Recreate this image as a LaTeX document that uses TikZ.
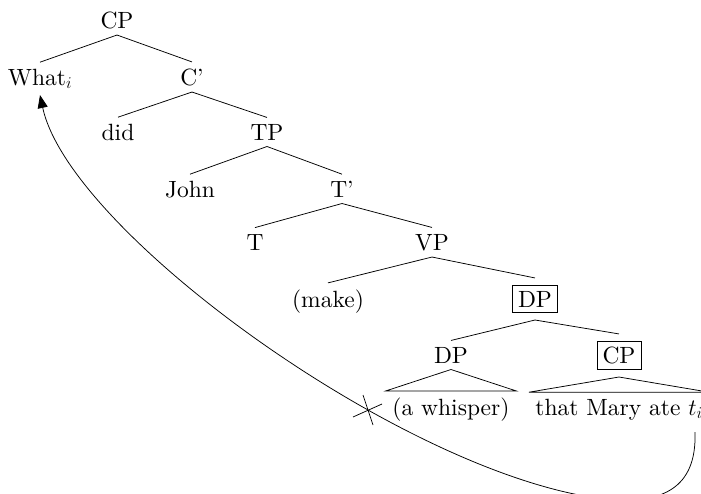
\RequirePackage{fix-cm}
\documentclass[tikz,border=0pt]{standalone}
\usepackage{fontspec}
\setmainfont{lmroman10-regular.otf}[ItalicFont=lmroman10-italic.otf, BoldFont=lmroman10-bold.otf]
\usetikzlibrary{arrows.meta}
\begin{document}
\begin{tikzpicture}[x=1pt,y=-1pt,
  font=\fontsize{23.5}{28}\selectfont,
  every node/.style={inner sep=6.5pt, outer sep=0pt, anchor=base},
  boxed/.style={draw, line width=0.7pt, inner sep=5.5pt, outer sep=7.5pt},
  branch/.style={line width=0.75pt},
  move/.style={line width=0.75pt, -{Triangle[length=13pt,width=10pt]}}]
\useasboundingbox (0,0) rectangle (701,493);

% tree nodes, placed on their baselines
\node (cp) at (117,28) {CP};
\node (what) at (40,85) {What$_i$};
\node (cbar) at (192,85) {C'};
\node (did) at (118,140) {did};
\node (tp) at (267,140) {TP};
\node (john) at (190,197) {John};
\node (tbar) at (342,197) {T'};
\node (t) at (255,250) {T};
\node (vp) at (432,250) {VP};
\node (make) at (328,307) {(make)};
\node[boxed] (dpbox) at (535,307) {DP};
\node (dp) at (451,363) {DP};
\node[boxed] (cpbox) at (619,363.5) {CP};
\node (whisper) at (451,415) {(a whisper)};
\node (clause) at (619,415) {that Mary ate $t_i$};

% branches
\draw[branch] (what.north) -- (cp.south) -- (cbar.north);
\draw[branch] (did.north) -- (cbar.south) -- (tp.north);
\draw[branch] (john.north) -- (tp.south) -- (tbar.north);
\draw[branch] (t.north) -- (tbar.south) -- (vp.north);
\draw[branch] (make.north) -- (vp.south) -- (dpbox.north);
\draw[branch] (dp.north) -- (dpbox.south) -- (cpbox.north);

% triangles over unanalysed constituents
\draw[branch] (whisper.north west) -- (dp.south) -- (whisper.north east) -- cycle;
\draw[branch] (clause.north west) -- (cpbox.south) -- (clause.north east) -- cycle;

% movement of the wh-phrase out of the trace position
\coordinate (trace) at (695,432);
\draw[move] (trace) .. controls (697,490) and (660,502) .. (615,500)
  .. controls (420,485) and (70,235) .. (what.south);

% blocked crossing of the DP island
\coordinate (block) at (368,410);
\draw[branch] ([shift={(-15,7)}]block) -- ([shift={(14,-6)}]block);
\draw[branch] ([shift={(-5,-15)}]block) -- ([shift={(5,15)}]block);
\end{tikzpicture}
\end{document}
